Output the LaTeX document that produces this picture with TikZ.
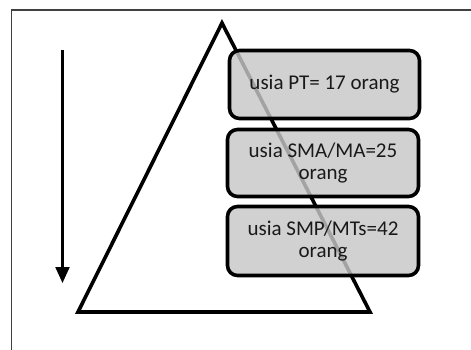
\documentclass[tikz,border=0pt]{standalone}
\usepackage{fontspec}
\setmainfont{Carlito}
\usetikzlibrary{arrows.meta}
\definecolor{boxfill}{gray}{0.78}
\definecolor{txt}{gray}{0.1}
\tikzset{
  agebox/.style={draw=black, line width=3.6pt, rounded corners=10pt, fill=boxfill, fill opacity=0.82, draw opacity=1, text opacity=1, text=txt, align=center, font=\fontsize{21}{22.5}\selectfont, inner sep=0pt},
  tri/.style={draw=black, line width=3.6pt, line join=miter},
  frame/.style={draw=black!75, line width=1.5pt},
  downarrow/.style={draw=black, line width=2.2pt, -{Triangle[length=16pt,width=14pt]}}
}
\begin{document}
\begin{tikzpicture}[x=1pt,y=-1pt]
\useasboundingbox (0,0) rectangle (471,349);
\begin{scope}
\clip (0,0) rectangle (471,349);
\path[frame] (11.5,10) rectangle (490,370);
\end{scope}
\coordinate (apex) at (222,23);
\coordinate (bl) at (78,312);
\coordinate (br) at (370,312);
\path[tri] (apex) -- (br) -- (bl) -- cycle;
\coordinate (a1) at (62.5,50);
\coordinate (a2) at (62.5,283);
\path[downarrow] (a1) -- (a2);
\node[agebox, minimum width=190pt, minimum height=68pt] (pt) at (324.5,84.5) {usia PT= 17 orang};
\node[agebox, minimum width=191pt, minimum height=67pt] (sma) at (323,163) {usia SMA/MA=25\\orang};
\node[agebox, minimum width=191pt, minimum height=69pt] (smp) at (323,241) {usia SMP/MTs=42\\orang};
\end{tikzpicture}
\end{document}
